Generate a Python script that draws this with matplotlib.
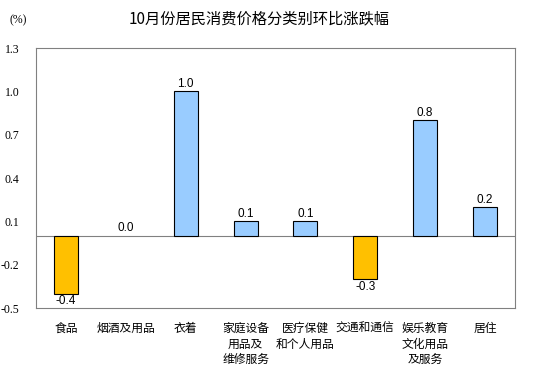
import matplotlib
matplotlib.use("Agg")
import matplotlib.pyplot as plt
import numpy as np

categories = ["食品", "烟酒及用品", "衣着", "家庭设备\n用品及\n维修服务",
              "医疗保健\n和个人用品", "交通和通信", "娱乐教育\n文化用品\n及服务", "居住"]
values = [-0.4, 0.0, 1.0, 0.1, 0.1, -0.3, 0.8, 0.2]
y_ticks = [-0.5, -0.2, 0.1, 0.4, 0.7, 1.0, 1.3]

cjk = ["Noto Sans CJK SC", "DejaVu Sans"]
pos_color = "#99CCFF"
neg_color = "#FFC000"

fig = plt.figure(figsize=(5.35, 3.65), dpi=100)
ax = fig.add_axes([0.0673, 0.156, 0.8953, 0.712])

x = np.arange(len(values))
colors = [neg_color if v < 0 else pos_color for v in values]
edges = ["none" if v == 0 else "black" for v in values]
ax.bar(x, values, width=0.4, color=colors, edgecolor=edges, linewidth=0.8, zorder=3)
ax.axhline(0, color="#808080", linewidth=0.8, zorder=2)

for xi, v in zip(x, values):
    if v < 0:
        ax.text(xi, v - 0.01, f"{v:.1f}", ha="center", va="top", fontsize=8.5,
                family="Liberation Sans")
    else:
        ax.text(xi, v + 0.01, f"{v:.1f}", ha="center", va="bottom", fontsize=8.5,
                family="Liberation Sans")

ax.set_xlim(-0.5, len(values) - 0.5)
ax.set_ylim(-0.5, 1.3)
ax.set_yticks(y_ticks)
ax.set_yticklabels([f"{t:.1f}" for t in y_ticks], family="Liberation Serif", fontsize=8.5)
ax.tick_params(axis="y", length=0, pad=12)
ax.set_xticks(x)
ax.set_xticklabels(categories, family=cjk, fontsize=8.5, linespacing=1.25, va="top")
ax.tick_params(axis="x", length=0, pad=10)

for s in ax.spines.values():
    s.set_color("#808080")
    s.set_linewidth(0.8)

fig.text(0.485, 0.948, "10月份居民消费价格分类别环比涨跌幅", ha="center", va="center",
         family=cjk, fontsize=11)
fig.text(0.034, 0.944, "(%)", ha="center", va="center", family="Liberation Serif", fontsize=8.5)

fig.savefig("out.png", dpi=100)
